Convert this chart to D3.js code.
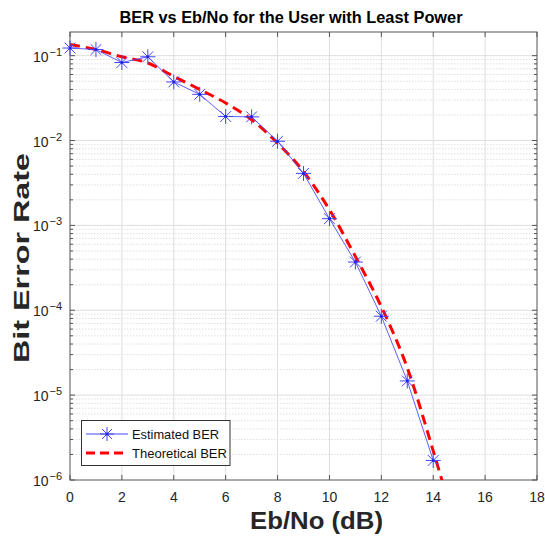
<!DOCTYPE html>
<html><head><meta charset="utf-8">
<script src="https://cdn.jsdelivr.net/npm/d3@7"></script>
<style>body{margin:0;background:#fff;} svg{display:block;font-family:"Liberation Sans",Arial,sans-serif;}</style>
</head><body><svg id="c" width="545" height="543"></svg>
<script>
const ebno = [0,1,2,3,4,5,6,7,8,9,10,11,12,13,14];
const berEstimated = [0.123,0.118,0.083,0.097,0.049,0.035,0.0192,0.019,0.0098,0.0041,0.0012,0.00037,0.000085,0.0000147,0.0000017];
const ebnoTheory = [0,1,2,3,4,5,6,7,8,9,10,11,12,13,14,15];
const berTheoretical = [0.135,0.118,0.097,0.082,0.057,0.040,0.0277,0.0176,0.0093,0.0043,0.00153,0.00043,0.00011,0.000021,0.0000022,0.0000002];
const xTicks = [0,2,4,6,8,10,12,14,16,18];
const yTicks = [1e-6,1e-5,1e-4,1e-3,1e-2,1e-1];
const yTickExp = ["\u22126","\u22125","\u22124","\u22123","\u22122","\u22121"];
const legendLabels = ["Estimated BER","Theoretical BER"];

const svg = d3.select("#c");
const L=70,R=537,T=32,B=480;
const x = d3.scaleLinear().domain([0,18]).range([L,R]);
const y = d3.scaleLog().domain([1e-6,0.19]).range([B,T]);

// minor grid
const minor=[];
for(let e=-6;e<=-1;e++) for(let m=2;m<=9;m++){const v=m*Math.pow(10,e); if(v<=0.19) minor.push(v);}
svg.append("g").selectAll("line").data(minor).join("line")
  .attr("x1",L).attr("x2",R).attr("y1",d=>y(d)).attr("y2",d=>y(d))
  .attr("stroke","#d8d8d8").attr("stroke-width",0.8).attr("stroke-dasharray","1.5,1.5");
// major grid
svg.append("g").selectAll("line").data(xTicks.slice(1,-1)).join("line")
  .attr("x1",d=>x(d)).attr("x2",d=>x(d)).attr("y1",T).attr("y2",B)
  .attr("stroke","#dedede").attr("stroke-width",1);
svg.append("g").selectAll("line").data(yTicks.slice(1)).join("line")
  .attr("x1",L).attr("x2",R).attr("y1",d=>y(d)).attr("y2",d=>y(d))
  .attr("stroke","#dedede").attr("stroke-width",1);

// axes box ticks
const tk = svg.append("g").attr("stroke","#555").attr("stroke-width",1);
xTicks.forEach(v=>{
  tk.append("line").attr("x1",x(v)).attr("x2",x(v)).attr("y1",B).attr("y2",B-5);
  tk.append("line").attr("x1",x(v)).attr("x2",x(v)).attr("y1",T).attr("y2",T+5);
});
yTicks.forEach(v=>{
  tk.append("line").attr("x1",L).attr("x2",L+5).attr("y1",y(v)).attr("y2",y(v));
  tk.append("line").attr("x1",R).attr("x2",R-5).attr("y1",y(v)).attr("y2",y(v));
});
minor.forEach(v=>{
  tk.append("line").attr("x1",L).attr("x2",L+3).attr("y1",y(v)).attr("y2",y(v));
  tk.append("line").attr("x1",R).attr("x2",R-3).attr("y1",y(v)).attr("y2",y(v));
});
svg.append("rect").attr("x",L).attr("y",T).attr("width",R-L).attr("height",B-T)
  .attr("fill","none").attr("stroke","#555").attr("stroke-width",1);

// tick labels
svg.append("g").selectAll("text").data(xTicks).join("text")
  .attr("x",d=>x(d)).attr("y",502).attr("text-anchor","middle")
  .attr("font-size",14).attr("fill","#262626").text(d=>d);
const yl = svg.append("g").selectAll("text").data(yTicks).join("text")
  .attr("x",62).attr("y",d=>y(d)+6).attr("text-anchor","end")
  .attr("font-size",14).attr("fill","#262626");
yl.append("tspan").text("10");
yl.append("tspan").attr("dy",-6).attr("dx",1).attr("font-size",11).text((d,i)=>yTickExp[i]);

// clip
svg.append("clipPath").attr("id","clip").append("rect").attr("x",L).attr("y",T).attr("width",R-L).attr("height",B-T);

// theoretical
const lineT = d3.line().x(d=>x(d[0])).y(d=>y(d[1])).curve(d3.curveMonotoneX);
svg.append("path").attr("clip-path","url(#clip)")
  .attr("d",lineT(ebnoTheory.map((v,i)=>[v,berTheoretical[i]])))
  .attr("fill","none").attr("stroke","#ff0000").attr("stroke-width",3).attr("stroke-dasharray","10,6");

// estimated
const lineE = d3.line().x(d=>x(d[0])).y(d=>y(d[1]));
const blue="#4444ff";
svg.append("path").attr("d",lineE(ebno.map((v,i)=>[v,berEstimated[i]])))
  .attr("fill","none").attr("stroke",blue).attr("stroke-opacity",0.85).attr("stroke-width",1);
function star(g,cx,cy,s){
  const a=s*0.72;
  g.append("path").attr("d",`M${cx-s},${cy}H${cx+s}M${cx},${cy-s}V${cy+s}M${cx-a},${cy-a}L${cx+a},${cy+a}M${cx-a},${cy+a}L${cx+a},${cy-a}`)
   .attr("stroke",blue).attr("stroke-width",1).attr("fill","none");
  g.append("circle").attr("cx",cx).attr("cy",cy).attr("r",1.5).attr("fill","#2222ee");
}
const mk = svg.append("g");
ebno.forEach((v,i)=>star(mk,x(v),y(berEstimated[i]),7.5));

// legend
const lg = svg.append("g");
lg.append("rect").attr("x",81.5).attr("y",420.5).attr("width",148.5).attr("height",45)
  .attr("fill","#fff").attr("stroke","#333").attr("stroke-width",1);
lg.append("line").attr("x1",86).attr("x2",128).attr("y1",434).attr("y2",434).attr("stroke",blue).attr("stroke-width",1);
star(lg,107,434,7);
lg.append("line").attr("x1",86).attr("x2",128).attr("y1",453).attr("y2",453)
  .attr("stroke","#ff0000").attr("stroke-width",3).attr("stroke-dasharray","9,5");
lg.selectAll("text.l").data(legendLabels).join("text")
  .attr("x",132).attr("y",(d,i)=>438.5+i*19).attr("font-size",13).attr("fill","#111")
  .attr("textLength",(d,i)=>i==0?87:95).attr("lengthAdjust","spacingAndGlyphs").text(d=>d);

// title & labels
svg.append("text").attr("x",291).attr("y",23).attr("text-anchor","middle")
  .attr("font-size",16).attr("font-weight","bold").attr("fill","#000")
  .attr("textLength",343).attr("lengthAdjust","spacingAndGlyphs")
  .text("BER vs Eb/No for the User with Least Power");
svg.append("text").attr("x",316.5).attr("y",529).attr("text-anchor","middle")
  .attr("font-size",24).attr("font-weight","bold").attr("fill","#262626")
  .attr("textLength",133).attr("lengthAdjust","spacingAndGlyphs").text("Eb/No (dB)");
svg.append("text").attr("transform","translate(29,258) rotate(-90)").attr("text-anchor","middle")
  .attr("font-size",22).attr("font-weight","bold").attr("fill","#262626")
  .attr("textLength",210).attr("lengthAdjust","spacingAndGlyphs").text("Bit Error Rate");
</script></body></html>
